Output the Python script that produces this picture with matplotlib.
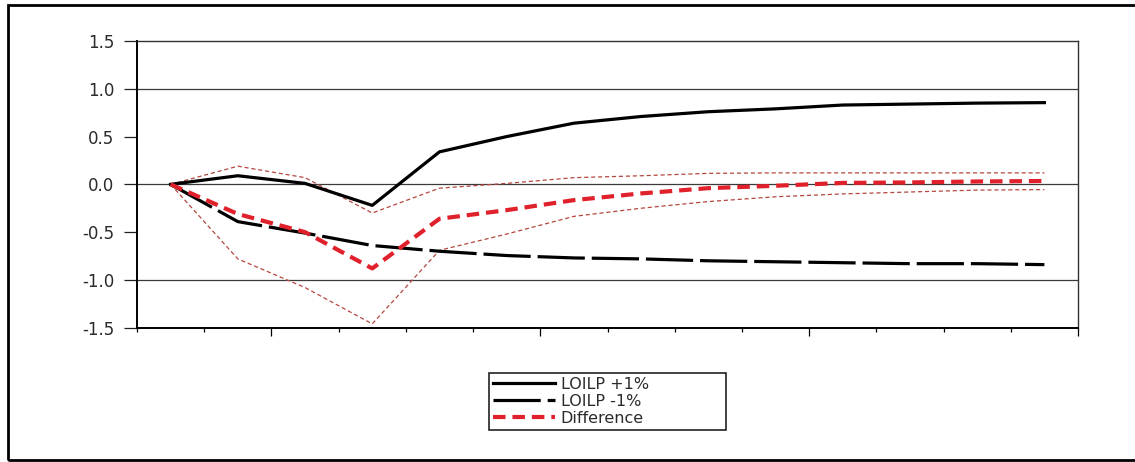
import matplotlib
matplotlib.use("Agg")
import matplotlib.pyplot as plt
from matplotlib.patches import Rectangle
from matplotlib.ticker import FixedLocator, NullFormatter

# Response of the model to a +/-1% shock in LOILP, by period
periods = list(range(1, 15))
loilp_plus = [0.0, 0.09, 0.01, -0.22, 0.34, 0.50, 0.64, 0.71, 0.76, 0.79, 0.83, 0.84, 0.85, 0.855]
loilp_minus = [0.0, -0.39, -0.51, -0.64, -0.70, -0.745, -0.77, -0.78, -0.80, -0.81, -0.82, -0.83, -0.83, -0.84]
difference = [0.0, -0.31, -0.50, -0.88, -0.36, -0.27, -0.165, -0.095, -0.04, -0.015, 0.015, 0.02, 0.03, 0.035]
diff_upper = [0.0, 0.19, 0.07, -0.30, -0.04, 0.01, 0.07, 0.09, 0.115, 0.12, 0.12, 0.12, 0.12, 0.12]
diff_lower = [0.0, -0.78, -1.08, -1.46, -0.69, -0.52, -0.335, -0.25, -0.18, -0.13, -0.10, -0.08, -0.06, -0.055]

y_ticks = [-1.5, -1.0, -0.5, 0.0, 0.5, 1.0, 1.5]
y_tick_labels = ["-1.5", "-1.0", "-0.5", "0.0", "0.5", "1.0", "1.5"]
grid_levels = [-1.0, 0.0, 1.0]
legend_labels = ["LOILP +1%", "LOILP -1%", "Difference"]

plt.rcParams["lines.scale_dashes"] = False
plt.rcParams["font.family"] = ["DejaVu Sans"]

W, H = 1135, 462
fig = plt.figure(figsize=(W / 100, H / 100), dpi=100)
fig.patch.set_facecolor("white")

# plot area in pixel terms
left, right, top, bottom = 137, 1078, 41, 327.7
ax = fig.add_axes([left / W, 1 - bottom / H, (right - left) / W, (bottom - top) / H])

text_color = "#2a2a2a"
band_color = "#b5473f"
red = "#e0202a"

for lvl in grid_levels:
    ax.axhline(lvl, color="#3a3a3a", lw=0.9, zorder=1)

ax.plot(periods, diff_upper, color=band_color, lw=0.9, dashes=(3.0, 2.0), zorder=2)
ax.plot(periods, diff_lower, color=band_color, lw=0.9, dashes=(3.0, 2.0), zorder=2)
l1, = ax.plot(periods, loilp_plus, color="black", lw=2.3, zorder=3)
l2, = ax.plot(periods, loilp_minus, color="black", lw=2.3, dashes=(34, 5), zorder=3)
l3, = ax.plot(periods, difference, color=red, lw=3.0, dashes=(9, 5), zorder=4)

ax.set_xlim(0.5, 14.5)
ax.set_ylim(-1.5, 1.5)

# x axis: tick marks only, between periods, longer every fourth
edges = [0.5 + i for i in range(15)]
major = [e for i, e in enumerate(edges) if i % 4 == 2]
minor = [e for i, e in enumerate(edges) if i % 4 != 2]
ax.xaxis.set_major_locator(FixedLocator(major))
ax.xaxis.set_minor_locator(FixedLocator(minor))
ax.xaxis.set_major_formatter(NullFormatter())
ax.tick_params(axis="x", which="major", direction="out", length=5.8, width=0.9, color="black")
ax.tick_params(axis="x", which="minor", direction="out", length=2.9, width=0.9, color="black")

ax.set_yticks(y_ticks)
ax.set_yticklabels(y_tick_labels)
ax.tick_params(axis="y", direction="out", length=9.4, width=0.9, pad=7,
               labelsize=12, labelcolor=text_color, color="#222222")

for side in ("left", "bottom"):
    ax.spines[side].set_linewidth(1.4)
    ax.spines[side].set_color("black")
for side in ("top", "right"):
    ax.spines[side].set_linewidth(1.0)
    ax.spines[side].set_color("#333333")

# legend box below the plot
lx0, lx1, ly0, ly1 = 489, 726, 373, 429
leg = fig.legend([l1, l2, l3], legend_labels,
                 loc="upper left",
                 bbox_to_anchor=(lx0 / W, 1 - ly1 / H, (lx1 - lx0) / W, (ly1 - ly0) / H),
                 bbox_transform=fig.transFigure, mode="expand", borderaxespad=0,
                 fontsize=11.5, labelspacing=0.12, handlelength=3.9, handletextpad=0.35,
                 borderpad=0.25, fancybox=False, framealpha=1, edgecolor="#222222",
                 labelcolor=text_color)
leg.get_frame().set_linewidth(1.2)

# outer frame around the whole graphic (its right side runs past the edge)
fig.add_artist(Rectangle((8 / W, 1 - 460 / H), (1160 - 8) / W, (460 - 5) / H,
                         transform=fig.transFigure, fill=False, lw=2.0,
                         edgecolor="black", clip_on=False))

fig.savefig("out.png", dpi=100, facecolor="white")
